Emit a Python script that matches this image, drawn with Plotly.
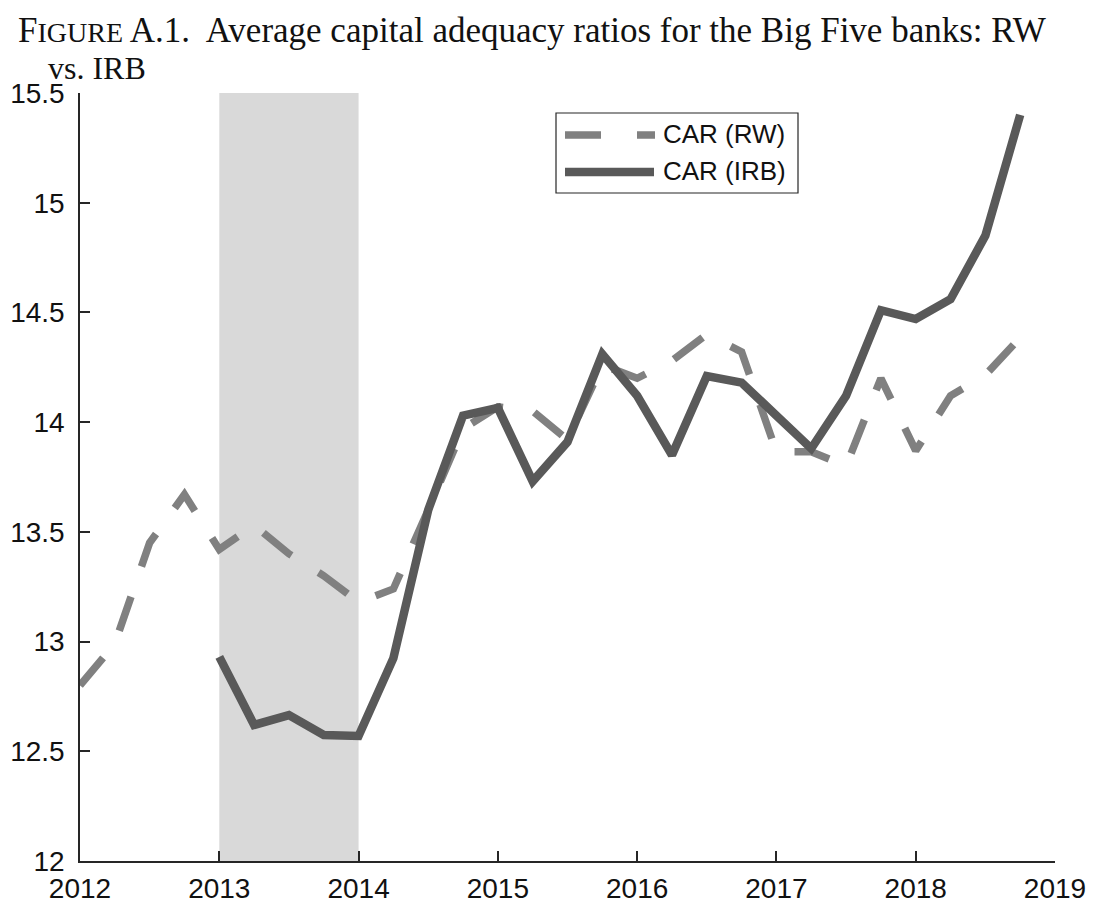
import plotly.graph_objects as go

# Quarterly observations (fractional year positions)
rw_quarters = [2012.00, 2012.25, 2012.50, 2012.75, 2013.00, 2013.25, 2013.50, 2013.75,
               2014.00, 2014.25, 2014.50, 2014.75, 2015.00, 2015.25, 2015.50, 2015.75,
               2016.00, 2016.25, 2016.50, 2016.75, 2017.00, 2017.25, 2017.50, 2017.75,
               2018.00, 2018.25, 2018.50, 2018.75]
car_rw = [12.80, 12.99, 13.45, 13.67, 13.42, 13.53, 13.40, 13.30,
          13.18, 13.24, 13.60, 13.97, 14.07, 14.05, 13.92, 14.26,
          14.20, 14.28, 14.40, 14.32, 13.865, 13.865, 13.80, 14.20,
          13.87, 14.12, 14.215, 14.385]

irb_quarters = [2013.00, 2013.25, 2013.50, 2013.75, 2014.00, 2014.25, 2014.50, 2014.75,
                2015.00, 2015.25, 2015.50, 2015.75, 2016.00, 2016.25, 2016.50, 2016.75,
                2017.00, 2017.25, 2017.50, 2017.75, 2018.00, 2018.25, 2018.50, 2018.75]
car_irb = [12.93, 12.62, 12.665, 12.574, 12.57, 12.924, 13.60, 14.03,
           14.065, 13.73, 13.91, 14.31, 14.12, 13.85, 14.21, 14.18,
           14.03, 13.88, 14.12, 14.51, 14.47, 14.56, 14.85, 15.40]

x_ticks = [2012, 2013, 2014, 2015, 2016, 2017, 2018, 2019]
y_ticks = [12, 12.5, 13, 13.5, 14, 14.5, 15, 15.5]
y_tick_text = ["12", "12.5", "13", "13.5", "14", "14.5", "15", "15.5"]
shade_period = (2013, 2014)

rw_name = "CAR (RW)"
irb_name = "CAR (IRB)"

W, H = 1093, 907
ML, MR, MT, MB = 80, 38, 93, 46
PW, PH = W - ML - MR, H - MT - MB

RW_COLOR = "#808080"
IRB_COLOR = "#595959"
AXIS_COLOR = "#262626"
SANS = "Liberation Sans, Arial, sans-serif"
SERIF = "Liberation Serif, Times New Roman, serif"


def px_x(px):
    return (px - ML) / PW


def px_y(py):
    return (H - MB - py) / PH


fig = go.Figure()

fig.add_trace(go.Scatter(
    x=rw_quarters, y=car_rw, mode="lines", name=rw_name, showlegend=False,
    line=dict(color=RW_COLOR, width=7.5, dash="36px,32px"),
))
fig.add_trace(go.Scatter(
    x=irb_quarters, y=car_irb, mode="lines", name=irb_name, showlegend=False,
    line=dict(color=IRB_COLOR, width=8.5),
))

shapes = [
    dict(type="rect", xref="x", yref="paper", x0=shade_period[0], x1=shade_period[1],
         y0=0, y1=1, fillcolor="#d9d9d9", line=dict(width=0), layer="below"),
    # legend frame and samples
    dict(type="rect", xref="paper", yref="paper", x0=px_x(556), x1=px_x(798),
         y0=px_y(193), y1=px_y(113), fillcolor="white",
         line=dict(color=AXIS_COLOR, width=1.2), layer="above"),
    dict(type="line", xref="paper", yref="paper", x0=px_x(565), x1=px_x(655),
         y0=px_y(135), y1=px_y(135),
         line=dict(color=RW_COLOR, width=7.5, dash="36px,36px"), layer="above"),
    dict(type="line", xref="paper", yref="paper", x0=px_x(565), x1=px_x(654),
         y0=px_y(172), y1=px_y(172),
         line=dict(color=IRB_COLOR, width=8.5), layer="above"),
]

annotations = [
    dict(text=rw_name, xref="paper", yref="paper", x=px_x(661), y=px_y(134),
         xanchor="left", yanchor="middle", showarrow=False,
         font=dict(family=SANS, size=26, color="#111111")),
    dict(text=irb_name, xref="paper", yref="paper", x=px_x(661), y=px_y(171),
         xanchor="left", yanchor="middle", showarrow=False,
         font=dict(family=SANS, size=26, color="#111111")),
    dict(text="F<span style='font-size:28px'>IGURE</span> A.1.  Average capital adequacy ratios for the Big Five banks: RW",
         xref="paper", yref="paper", x=px_x(16), y=px_y(30),
         xanchor="left", yanchor="middle", showarrow=False,
         font=dict(family=SERIF, size=35, color="#111111")),
    dict(text="vs. IRB",
         xref="paper", yref="paper", x=px_x(46), y=px_y(68),
         xanchor="left", yanchor="middle", showarrow=False,
         font=dict(family=SERIF, size=32, color="#111111")),
]

fig.update_layout(
    width=W, height=H,
    margin=dict(l=ML, r=MR, t=MT, b=MB, pad=0, autoexpand=False),
    paper_bgcolor="white", plot_bgcolor="white",
    shapes=shapes, annotations=annotations,
    showlegend=False,
    xaxis=dict(
        range=[2012, 2019], tickvals=x_ticks, ticktext=[str(v) for v in x_ticks],
        ticks="inside", ticklen=10, tickwidth=1.5, tickcolor=AXIS_COLOR,
        showline=True, linecolor=AXIS_COLOR, linewidth=1.5,
        showgrid=False, zeroline=False, ticklabelstandoff=2, automargin=False,
        tickfont=dict(family=SANS, size=28, color="#111111"),
    ),
    yaxis=dict(
        range=[12, 15.5], tickvals=y_ticks, ticktext=y_tick_text,
        ticks="inside", ticklen=10, tickwidth=1.5, tickcolor=AXIS_COLOR,
        showline=True, linecolor=AXIS_COLOR, linewidth=1.5,
        showgrid=False, zeroline=False, ticklabelstandoff=8, automargin=False,
        tickfont=dict(family=SANS, size=28, color="#111111"),
    ),
)

fig.write_html("out.html")
